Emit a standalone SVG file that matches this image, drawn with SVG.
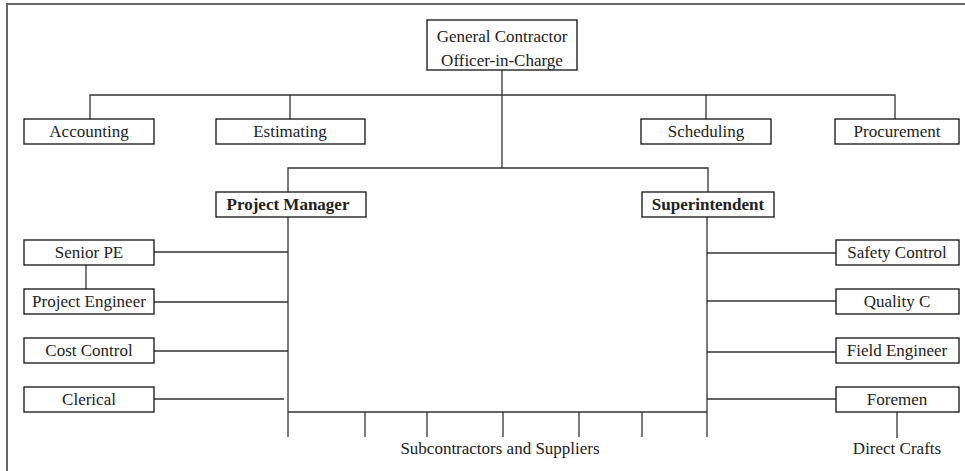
<svg xmlns="http://www.w3.org/2000/svg" width="965" height="471" viewBox="0 0 965 471">
  <style>
    .box { fill: #fff; stroke: #111; stroke-width: 1.3; }
    .lbl { font-family: "Liberation Serif", "Times New Roman", serif; font-size: 17px; fill: #222; text-anchor: middle; }
    .bold { font-weight: bold; }
    .wire { stroke: #333; stroke-width: 1.3; fill: none; }
    .frame { stroke: #666; fill: none; }
  </style>

  <rect width="965" height="471" fill="#fff"/>

  <!-- page frame -->
  <g id="frame">
    <line class="frame" x1="6" y1="4" x2="965" y2="4" stroke-width="2"/>
    <line class="frame" x1="7" y1="3" x2="7" y2="471" stroke-width="2"/>
  </g>

  <!-- connectors -->
  <g id="connectors">
    <path class="wire" d="M502,70 V168"/>
    <path class="wire" d="M90,119 V95 H895 V119 M290,95 V119 M706,95 V119"/>
    <path class="wire" d="M288,192 V168 H708 V192"/>
    <path class="wire" d="M288,217 V437 M707,217 V437"/>
    <path class="wire" d="M154,252 H288 M154,302 H288 M154,351 H288 M154,399 H284"/>
    <path class="wire" d="M707,253 H836 M707,301 H836 M707,352 H836 M707,399 H836"/>
    <path class="wire" d="M86,265 V289"/>
    <path class="wire" d="M288,412 H707 M365,412 V437 M427,412 V437 M503,412 V437 M579,412 V437 M642,412 V437"/>
    <path class="wire" d="M897,412 V438"/>
  </g>

  <g id="gc">
    <rect class="box" x="427" y="20" width="150" height="50"/>
    <text class="lbl" x="502" y="42">General Contractor</text>
    <text class="lbl" x="502" y="66">Officer-in-Charge</text>
  </g>

  <g id="accounting">
    <rect class="box" x="24" y="119" width="130" height="25"/>
    <text class="lbl" x="89" y="137">Accounting</text>
  </g>
  <g id="estimating">
    <rect class="box" x="216" y="119" width="149" height="25"/>
    <text class="lbl" x="290" y="137">Estimating</text>
  </g>
  <g id="scheduling">
    <rect class="box" x="641" y="119" width="130" height="25"/>
    <text class="lbl" x="706" y="137">Scheduling</text>
  </g>
  <g id="procurement">
    <rect class="box" x="835" y="119" width="124" height="25"/>
    <text class="lbl" x="897" y="137">Procurement</text>
  </g>

  <g id="project-manager">
    <rect class="box" x="216" y="192" width="150" height="25"/>
    <text class="lbl bold" x="288" y="210">Project Manager</text>
  </g>
  <g id="superintendent">
    <rect class="box" x="642" y="192" width="132" height="25"/>
    <text class="lbl bold" x="708" y="210">Superintendent</text>
  </g>

  <g id="senior-pe">
    <rect class="box" x="24" y="240" width="130" height="25"/>
    <text class="lbl" x="89" y="258">Senior PE</text>
  </g>
  <g id="project-engineer">
    <rect class="box" x="24" y="289" width="130" height="25"/>
    <text class="lbl" x="89" y="307">Project Engineer</text>
  </g>
  <g id="cost-control">
    <rect class="box" x="24" y="338" width="130" height="25"/>
    <text class="lbl" x="89" y="356">Cost Control</text>
  </g>
  <g id="clerical">
    <rect class="box" x="24" y="387" width="130" height="25"/>
    <text class="lbl" x="89" y="405">Clerical</text>
  </g>

  <g id="safety-control">
    <rect class="box" x="836" y="240" width="123" height="25"/>
    <text class="lbl" x="897" y="258">Safety Control</text>
  </g>
  <g id="quality-c">
    <rect class="box" x="836" y="289" width="123" height="25"/>
    <text class="lbl" x="897" y="307">Quality C</text>
  </g>
  <g id="field-engineer">
    <rect class="box" x="836" y="338" width="123" height="25"/>
    <text class="lbl" x="897" y="356">Field Engineer</text>
  </g>
  <g id="foremen">
    <rect class="box" x="836" y="387" width="123" height="25"/>
    <text class="lbl" x="897" y="405">Foremen</text>
  </g>

  <g id="subcontractors">
    <text class="lbl" x="500" y="454">Subcontractors and Suppliers</text>
  </g>
  <g id="direct-crafts">
    <text class="lbl" x="897" y="454">Direct Crafts</text>
  </g>
</svg>
